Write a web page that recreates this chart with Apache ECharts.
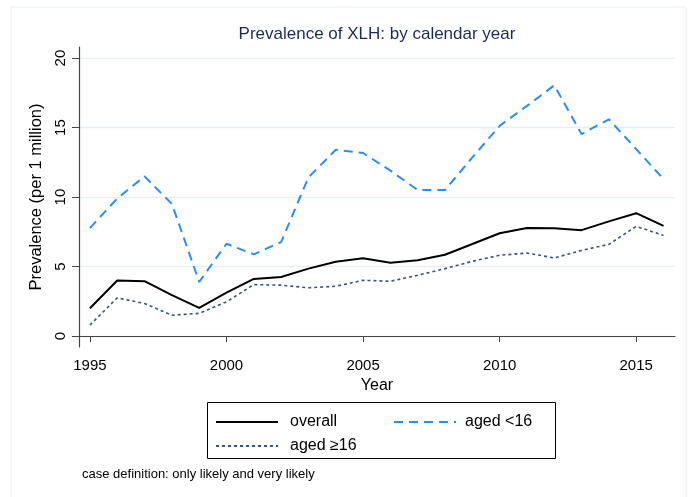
<!DOCTYPE html>
<html>
<head>
<meta charset="utf-8">
<script src="https://cdn.jsdelivr.net/npm/echarts@6/dist/echarts.min.js"></script>
<style>
html,body{margin:0;padding:0;background:#fff;}
#chart{width:693px;height:497px;}
</style>
</head>
<body>
<div id="chart"></div>
<script>
var years = [1995,1996,1997,1998,1999,2000,2001,2002,2003,2004,2005,2006,2007,2008,2009,2010,2011,2012,2013,2014,2015,2016];
var overall = [2.0,4.0,3.95,2.95,2.03,3.13,4.11,4.25,4.85,5.35,5.6,5.28,5.45,5.85,6.62,7.4,7.78,7.76,7.62,8.25,8.84,7.93];
var agedUnder16 = [7.77,9.9,11.49,9.51,3.9,6.64,5.88,6.76,11.42,13.4,13.17,11.9,10.51,10.51,12.85,15.13,16.56,18.04,14.53,15.6,13.45,11.3];
var aged16Plus = [0.79,2.75,2.34,1.5,1.63,2.46,3.7,3.66,3.47,3.58,4.01,3.94,4.37,4.85,5.38,5.81,5.97,5.62,6.16,6.6,7.89,7.24];
var xTicks = [1995,2000,2005,2010,2015];
var yTicks = [0,5,10,15,20];
var seriesNames = ['overall','aged <16','aged \u226516'];

function pairs(vals){ return years.map(function(y,i){ return [y, vals[i]]; }); }

var FONT = '"Liberation Sans", Arial, Helvetica, sans-serif';
function legendAt(name, left, top, gap){
  return {
    left:left, top:top, padding:0, orient:'horizontal',
    itemWidth:62, itemHeight:14,
    data:[name],
    itemStyle:{opacity:0},
    textStyle:{fontFamily:FONT, fontSize:16, color:'#000', padding:[0,0,0,gap]}
  };
}
var chart = echarts.init(document.getElementById('chart'), null, {renderer:'canvas'});
chart.setOption({
  backgroundColor:'#ffffff',
  animation:false,
  title:{
    text:'Prevalence of XLH: by calendar year',
    left:377, top:26, textAlign:'center', padding:0,
    textStyle:{fontFamily:FONT, fontSize:17, fontWeight:'normal', color:'#1c2b55'}
  },
  grid:{left:79, right:18, top:47, bottom:150, containLabel:false},
  xAxis:{
    type:'value', min:1994.6, max:2016.42,
    name:'Year', nameLocation:'middle', nameGap:28,
    nameTextStyle:{fontFamily:FONT, fontSize:16, color:'#000'},
    axisLine:{show:true, lineStyle:{color:'#444', width:1.2}},
    axisTick:{show:true, length:6, customValues:xTicks, lineStyle:{color:'#444'}},
    axisLabel:{customValues:xTicks, margin:11, fontFamily:FONT, fontSize:15, color:'#000', formatter:function(v){return String(v);}},
    splitLine:{show:false}
  },
  yAxis:{
    type:'value', min:-0.79, max:20.8,
    name:'Prevalence (per 1 million)', nameLocation:'middle', nameGap:28, nameRotate:90,
    nameTextStyle:{fontFamily:FONT, fontSize:16.5, color:'#000'},
    axisLine:{show:true, lineStyle:{color:'#444', width:1.2}},
    axisTick:{show:true, length:7, customValues:yTicks, lineStyle:{color:'#444'}},
    axisLabel:{customValues:yTicks, rotate:90, margin:11, fontFamily:FONT, fontSize:15, color:'#000'},
    splitLine:{show:true, lineStyle:{color:'#e6eef1', width:1.3}}
  },
  legend:[
    legendAt(seriesNames[0], 215, 414, 7),
    legendAt(seriesNames[1], 393, 414, 4),
    legendAt(seriesNames[2], 215, 438, 7)
  ],
  graphic:[
    {type:'rect', shape:{x:11, y:7, width:675, height:520}, style:{fill:null, stroke:'#e9eff1', lineWidth:1}, silent:true},
    {type:'rect', shape:{x:207.5, y:402.5, width:348, height:56}, style:{fill:null, stroke:'#000', lineWidth:1}, silent:true},
    {type:'text', left:82, top:468, style:{text:'case definition: only likely and very likely', fontFamily:FONT, fontSize:13, fill:'#000'}}
  ],
  series:[
    {name:seriesNames[0], type:'line', data:pairs(overall), symbol:'none', z:3,
     lineStyle:{color:'#000', width:2, type:'solid'}, itemStyle:{color:'#000'}},
    {name:seriesNames[1], type:'line', data:pairs(agedUnder16), symbol:'none', z:2,
     lineStyle:{color:'#2b8cf2', width:2, type:[9,6]}, itemStyle:{color:'#2b8cf2'}},
    {name:seriesNames[2], type:'line', data:pairs(aged16Plus), symbol:'none', z:2,
     lineStyle:{color:'#35557d', width:1.6, type:[3,3]}, itemStyle:{color:'#35557d'}}
  ]
});
</script>
</body>
</html>
